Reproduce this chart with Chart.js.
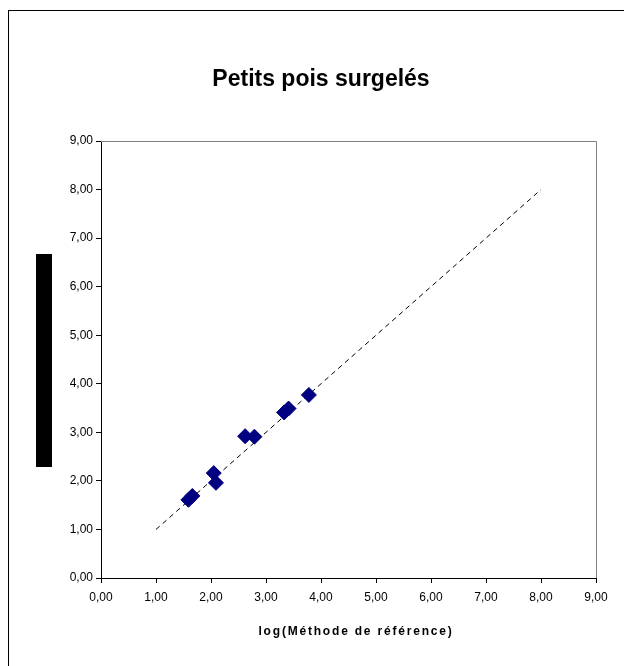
<!DOCTYPE html>
<html>
<head>
<meta charset="utf-8">
<script src="https://cdn.jsdelivr.net/npm/chart.js@4.4.1/dist/chart.umd.min.js"></script>
<style>
  html, body { margin: 0; padding: 0; background: #ffffff; }
  #wrap { width: 624px; height: 666px; }
</style>
</head>
<body>
<div id="wrap"><canvas id="c" width="624" height="666"></canvas></div>
<script>
// Reference method (log) vs alternative method (log), frozen peas
const refLog = [1.59, 1.66, 2.05, 2.09, 2.62, 2.79, 3.33, 3.41, 3.78];
const altLog = [1.61, 1.69, 2.16, 1.96, 2.92, 2.91, 3.41, 3.49, 3.77];
// y = x identity line endpoints
const identityX = [1, 8];
const identityY = [1, 8];
const axisMin = 0;
const axisMax = 9;
const axisStep = 1;

const chartTitle = 'Petits pois surgelés';
const xTitle = 'log(Méthode de référence)';

const FONT = '"Liberation Sans", Arial, sans-serif';
const fmt = v => Number(v).toFixed(2).replace('.', ',');

const points = refLog.map((x, i) => ({ x: x, y: altLog[i] }));
const identity = identityX.map((x, i) => ({ x: x, y: identityY[i] }));

// Outer frame, plot border, title, vertical label block and x-axis caption
const decorations = {
  id: 'decorations',
  beforeDraw(chart) {
    const ctx = chart.ctx;
    ctx.save();
    ctx.fillStyle = '#ffffff';
    ctx.fillRect(0, 0, chart.width, chart.height);
    ctx.strokeStyle = '#000000';
    ctx.lineWidth = 1;
    ctx.strokeRect(8.5, 10.5, 800, 800);
    ctx.restore();
  },
  beforeDatasetsDraw(chart) {
    const ctx = chart.ctx;
    const a = chart.chartArea;
    ctx.save();
    ctx.strokeStyle = '#808080';
    ctx.lineWidth = 1;
    ctx.beginPath();
    ctx.moveTo(a.left, Math.round(a.top) + 0.5);
    ctx.lineTo(Math.round(a.right) + 0.5, Math.round(a.top) + 0.5);
    ctx.lineTo(Math.round(a.right) + 0.5, a.bottom);
    ctx.stroke();
    ctx.restore();
  },
  afterDraw(chart) {
    const ctx = chart.ctx;
    ctx.save();
    ctx.fillStyle = '#000000';
    // chart title
    ctx.font = 'bold 23px ' + FONT;
    ctx.textAlign = 'center';
    ctx.textBaseline = 'middle';
    ctx.fillText(chartTitle, 321, 80);
    // vertical axis caption block
    ctx.fillRect(36, 254, 16, 213);
    // horizontal axis caption
    ctx.font = 'bold 12px ' + FONT;
    ctx.letterSpacing = '1.8px';
    ctx.fillText(xTitle, 356, 632);
    ctx.restore();
  }
};

new Chart(document.getElementById('c'), {
  type: 'scatter',
  data: {
    datasets: [
      {
        label: 'identité',
        type: 'line',
        data: identity,
        borderColor: '#000000',
        borderWidth: 1,
        borderDash: [5, 4],
        pointRadius: 0,
        fill: false,
        order: 2
      },
      {
        label: 'Petits pois',
        data: points,
        pointStyle: 'rectRot',
        pointRadius: 7.5,
        pointBackgroundColor: '#000080',
        pointBorderColor: '#000080',
        pointBorderWidth: 1,
        order: 1
      }
    ]
  },
  options: {
    responsive: false,
    animation: false,
    devicePixelRatio: 1,
    layout: { padding: { left: 0, right: 28, top: 141, bottom: 0 } },
    plugins: {
      legend: { display: false },
      tooltip: { enabled: false },
      title: { display: false }
    },
    scales: {
      x: {
        type: 'linear',
        min: axisMin,
        max: axisMax,
        afterFit(scale) { scale.height = 88; },
        ticks: {
          stepSize: axisStep,
          color: '#000000',
          font: { family: FONT, size: 12 },
          padding: 7,
          maxRotation: 0,
          callback: fmt
        },
        grid: { drawOnChartArea: false, drawTicks: true, tickLength: 5, color: '#000000' },
        border: { display: true, color: '#000000', width: 1 }
      },
      y: {
        type: 'linear',
        min: axisMin,
        max: axisMax,
        afterFit(scale) { scale.width = 101; },
        ticks: {
          stepSize: axisStep,
          color: '#000000',
          font: { family: FONT, size: 12 },
          padding: 3,
          callback: fmt
        },
        grid: { drawOnChartArea: false, drawTicks: true, tickLength: 5, color: '#000000' },
        border: { display: true, color: '#000000', width: 1 }
      }
    }
  },
  plugins: [decorations]
});
</script>
</body>
</html>
